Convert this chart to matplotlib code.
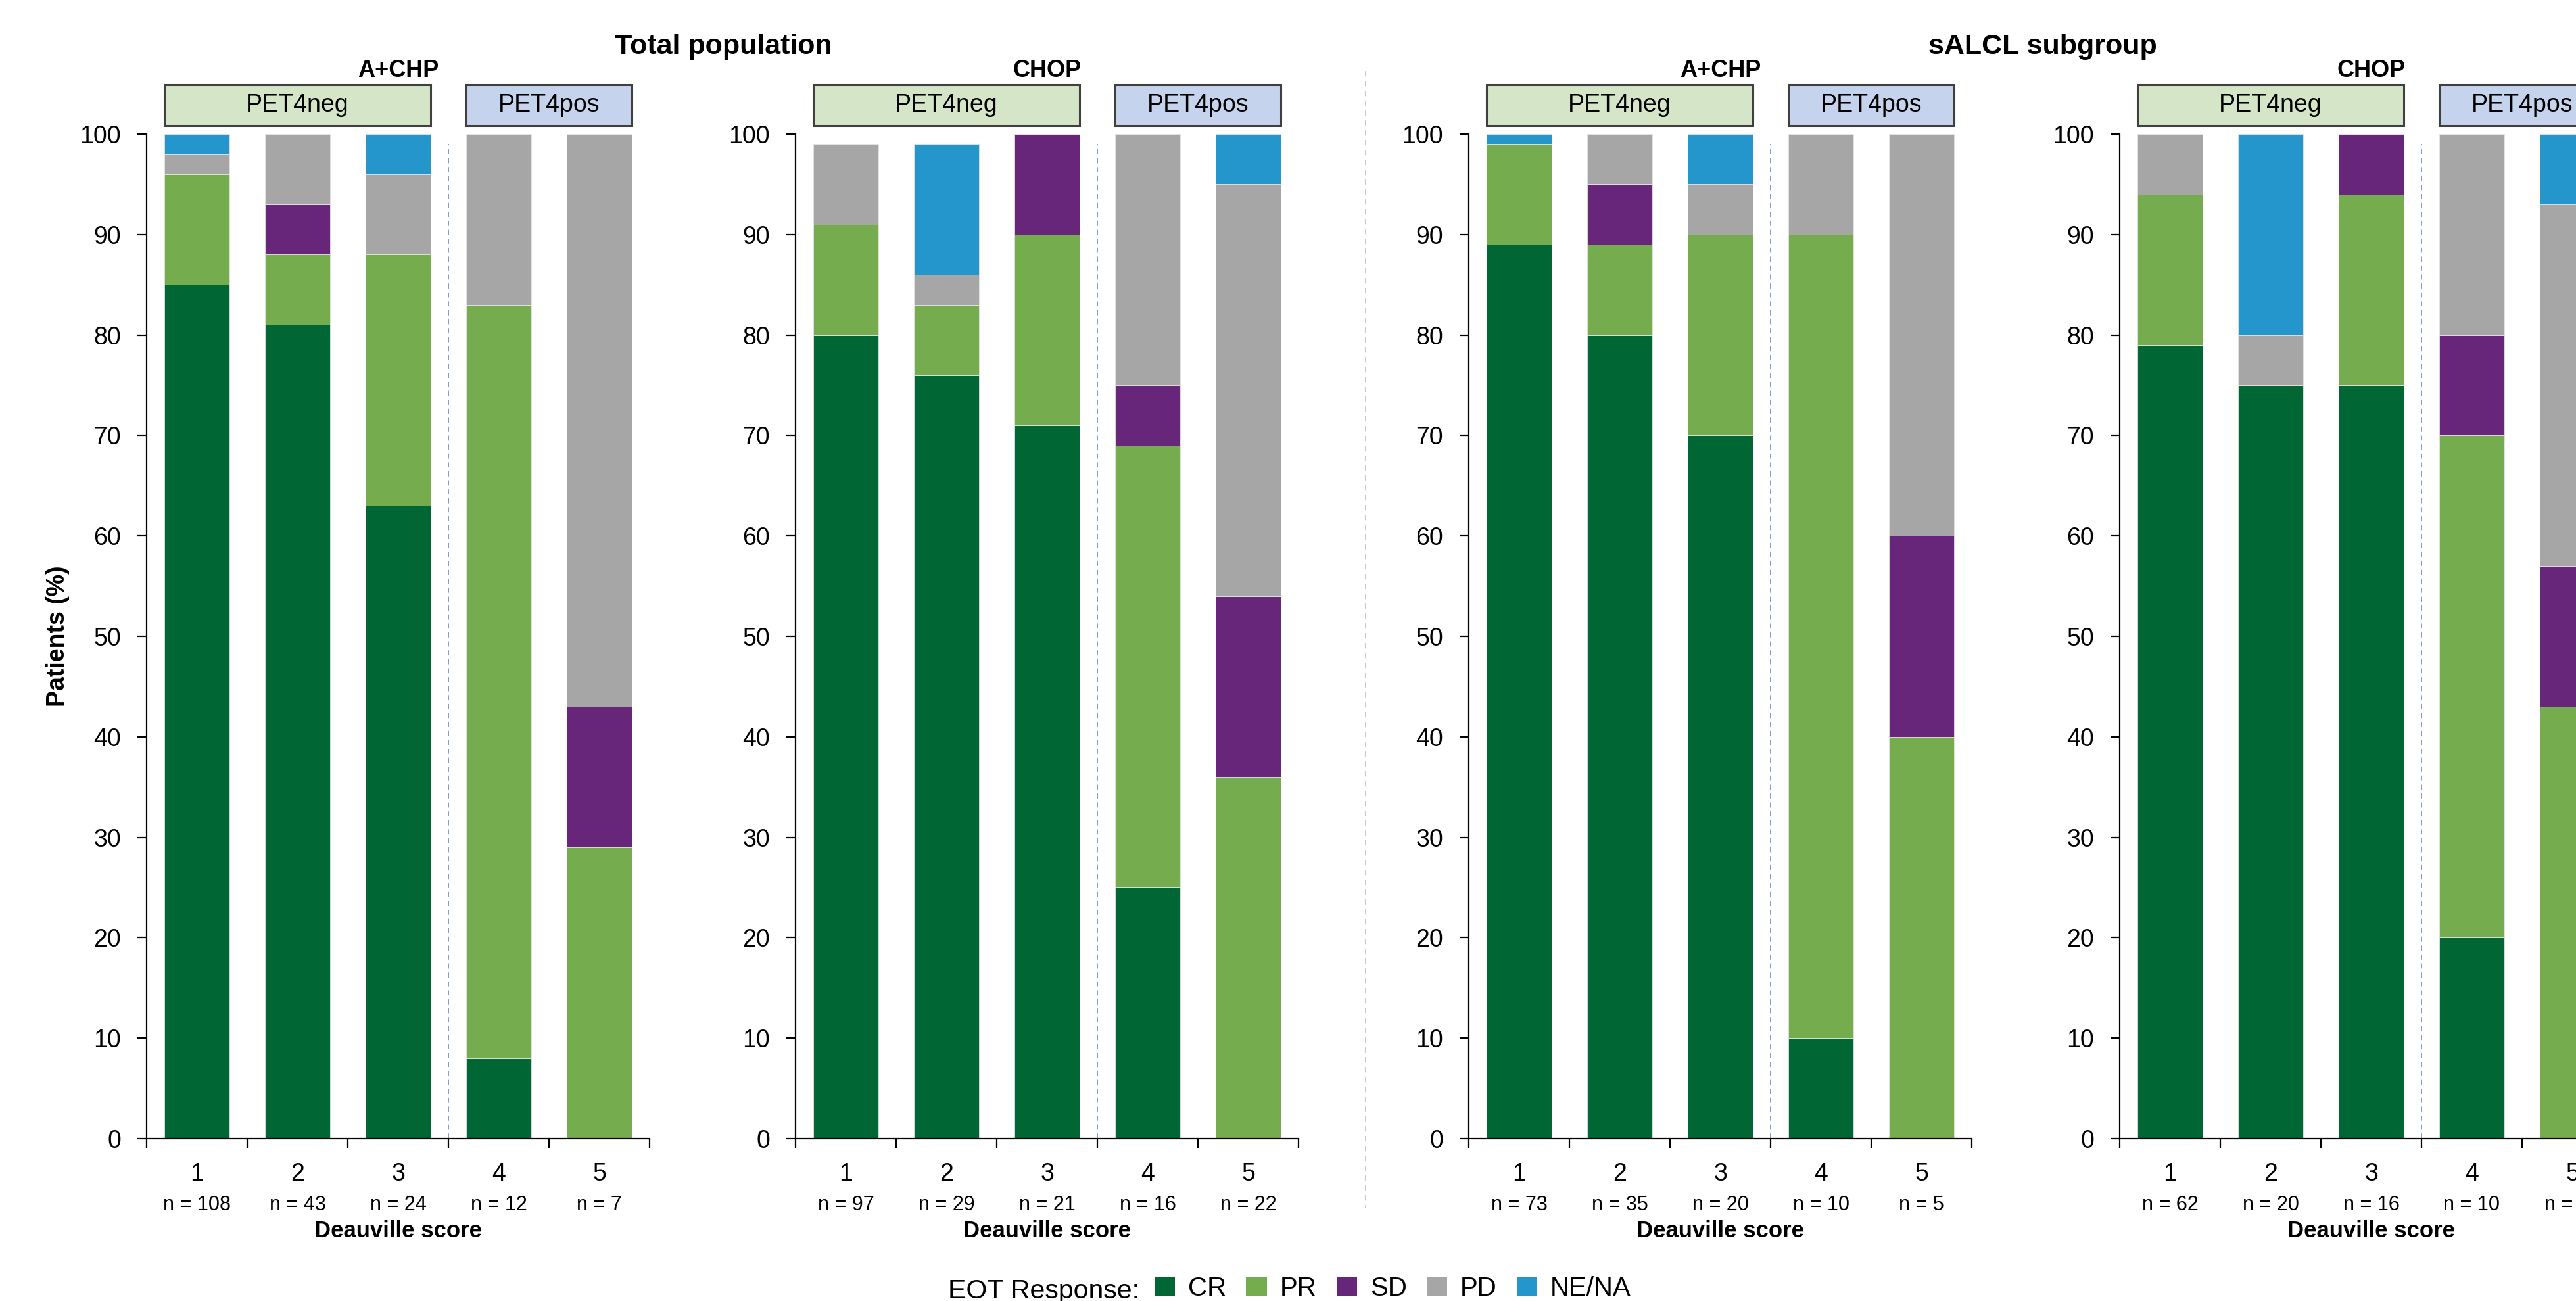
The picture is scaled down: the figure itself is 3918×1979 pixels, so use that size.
import matplotlib
matplotlib.use("Agg")
import matplotlib.pyplot as plt
from matplotlib.patches import Rectangle, Patch
from matplotlib.lines import Line2D
import numpy as np

plt.rcParams['font.family'] = ['Liberation Sans', 'DejaVu Sans']

# Deauville scores and EOT response categories
scores = [1, 2, 3, 4, 5]
responses = ['CR', 'PR', 'SD', 'PD', 'NE/NA']
colors = ['#006633', '#75AC4E', '#68267A', '#A6A6A6', '#2596CB']

# Total population, A+CHP (% of patients)
tot_achp_n = [108, 43, 24, 12, 7]
tot_achp_cr = [85, 81, 63, 8, 0]
tot_achp_pr = [11, 7, 25, 75, 29]
tot_achp_sd = [0, 5, 0, 0, 14]
tot_achp_pd = [2, 7, 8, 17, 57]
tot_achp_ne = [2, 0, 4, 0, 0]

# Total population, CHOP
tot_chop_n = [97, 29, 21, 16, 22]
tot_chop_cr = [80, 76, 71, 25, 0]
tot_chop_pr = [11, 7, 19, 44, 36]
tot_chop_sd = [0, 0, 10, 6, 18]
tot_chop_pd = [8, 3, 0, 25, 41]
tot_chop_ne = [0, 13, 0, 0, 5]

# sALCL subgroup, A+CHP
salcl_achp_n = [73, 35, 20, 10, 5]
salcl_achp_cr = [89, 80, 70, 10, 0]
salcl_achp_pr = [10, 9, 20, 80, 40]
salcl_achp_sd = [0, 6, 0, 0, 20]
salcl_achp_pd = [0, 5, 5, 10, 40]
salcl_achp_ne = [1, 0, 5, 0, 0]

# sALCL subgroup, CHOP
salcl_chop_n = [62, 20, 16, 10, 14]
salcl_chop_cr = [79, 75, 75, 20, 0]
salcl_chop_pr = [15, 0, 19, 50, 43]
salcl_chop_sd = [0, 0, 6, 10, 14]
salcl_chop_pd = [6, 5, 0, 20, 36]
salcl_chop_ne = [0, 20, 0, 0, 7]

panels = [
    ('A+CHP', tot_achp_n, [tot_achp_cr, tot_achp_pr, tot_achp_sd, tot_achp_pd, tot_achp_ne]),
    ('CHOP', tot_chop_n, [tot_chop_cr, tot_chop_pr, tot_chop_sd, tot_chop_pd, tot_chop_ne]),
    ('A+CHP', salcl_achp_n, [salcl_achp_cr, salcl_achp_pr, salcl_achp_sd, salcl_achp_pd, salcl_achp_ne]),
    ('CHOP', salcl_chop_n, [salcl_chop_cr, salcl_chop_pr, salcl_chop_sd, salcl_chop_pd, salcl_chop_ne]),
]

W, H = 3918, 1979
fig = plt.figure(figsize=(W / 100, H / 100), dpi=100)

ax_left = [223, 1210, 2234, 3224]
ax_w = 765
ax_bottom = 1979 - 1732
ax_h = 1732 - 204
bar_w = 0.65

for (name, nvals, segs), left in zip(panels, ax_left):
    ax = fig.add_axes([left / W, ax_bottom / H, ax_w / W, ax_h / H])
    bottom = np.zeros(len(scores))
    for vals, c in zip(segs, colors):
        ax.bar(scores, vals, width=bar_w, bottom=bottom, color=c,
               edgecolor='#e4e4e4', linewidth=0.6, zorder=2)
        bottom += np.array(vals)

    ax.set_xlim(0.5, 5.5)
    ax.set_ylim(0, 100)
    ax.set_yticks(range(0, 101, 10))
    ax.set_xticks(scores)
    ax.set_xticks(np.arange(0.5, 6, 1), minor=True)
    ax.tick_params(axis='x', which='major', length=0, pad=26, labelsize=27)
    ax.tick_params(axis='x', which='minor', length=11, width=1.6, direction='out')
    ax.tick_params(axis='y', length=10, width=1.6, pad=18, labelsize=27)
    for s in ['top', 'right']:
        ax.spines[s].set_visible(False)
    for s in ['left', 'bottom']:
        ax.spines[s].set_linewidth(1.6)

    for x, n in zip(scores, nvals):
        ax.text(x, -0.056, f'n = {n}', transform=ax.get_xaxis_transform(),
                ha='center', va='top', fontsize=22)
    ax.set_xlabel('Deauville score', fontsize=25, fontweight='bold', labelpad=37)

    # PET4 group separator
    ax.axvline(3.5, ymin=0, ymax=0.99, color='#7C9BD8', ls=(0, (4, 3)), lw=1.4, zorder=1)

    # group header boxes
    tr = ax.get_xaxis_transform()
    for x0, x1, label, fc in [(1 - bar_w / 2, 3 + bar_w / 2, 'PET4neg', '#D5E6C8'),
                              (4 - bar_w / 2, 5 + bar_w / 2, 'PET4pos', '#C5D4EC')]:
        ax.add_patch(Rectangle((x0, 1.0085), x1 - x0, 0.0405, transform=tr,
                               facecolor=fc, edgecolor='#404040', lw=2.2, clip_on=False))
        ax.text((x0 + x1) / 2, 1.0288, label, transform=tr, ha='center', va='center', fontsize=27)

    ax.text(0.5, 1.0569, name, transform=ax.transAxes, ha='center', va='baseline',
            fontsize=26, fontweight='bold')

    if left == ax_left[0]:
        ax.set_ylabel('Patients (%)', fontsize=27, fontweight='bold', labelpad=11)

fig.text(1100 / W, 1 - 82 / H, 'Total population', ha='center', va='baseline',
         fontsize=31, fontweight='bold')
fig.text(3107 / W, 1 - 82 / H, 'sALCL subgroup', ha='center', va='baseline',
         fontsize=31, fontweight='bold')

# separator between the two populations
fig.add_artist(Line2D([2077 / W, 2077 / W], [1 - 108 / H, 1 - 1837 / H],
                      color='#BFBFBF', ls=(0, (5, 4)), lw=1.2))

# legend
fig.text(1442 / W, 1 - 1975 / H, 'EOT Response:', ha='left', va='baseline', fontsize=29.5)
handles = [Patch(facecolor=c, edgecolor='none') for c in colors]
fig.legend(handles, responses, loc='center left', bbox_to_anchor=(1756 / W, 1 - 1960 / H),
           ncol=5, frameon=False, fontsize=29, handlelength=0.77, handleheight=0.77,
           handletextpad=0.5, columnspacing=0.75, borderpad=0, borderaxespad=0)

fig.savefig('out.png', dpi=100)
